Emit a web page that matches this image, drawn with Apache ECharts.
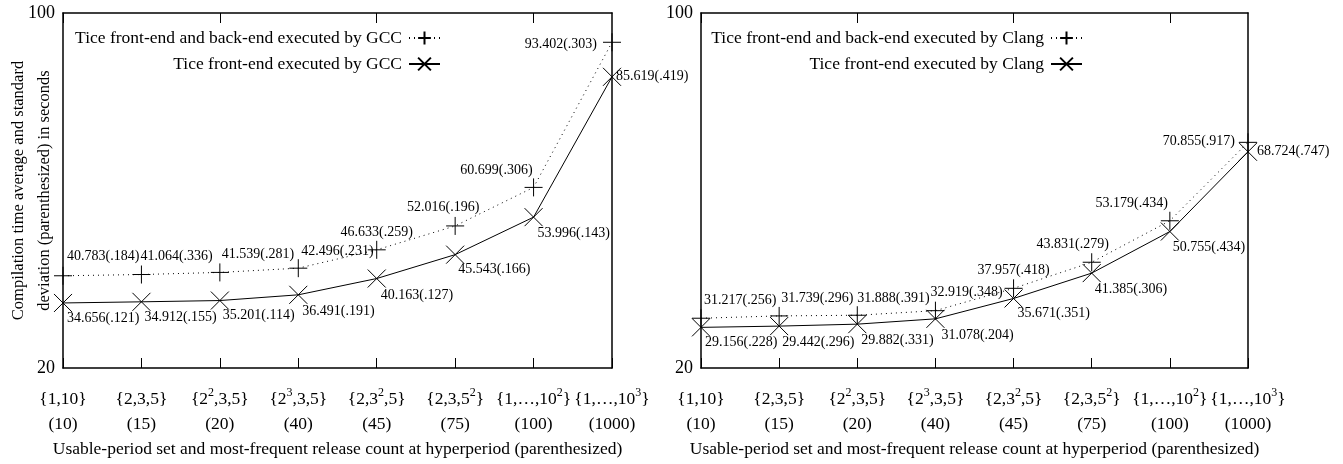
<!DOCTYPE html>
<html>
<head>
<meta charset="utf-8">
<script src="https://cdn.jsdelivr.net/npm/echarts@6/dist/echarts.min.js"></script>
<style>
  html, body { margin: 0; padding: 0; background: #fff; }
  #chart { width: 1343px; height: 464px; }
</style>
</head>
<body>
<div id="chart"></div>
<script>
// x categories: usable-period set + most-frequent release count
const periodSets = ['{1,10}', '{2,3,5}', '{2{sup|2},3,5}', '{2{sup|3},3,5}', '{2,3{sup|2},5}', '{2,3,5{sup|2}}', '{1,…,10{sup|2}}', '{1,…,10{sup|3}}']
const releaseCounts = [10, 15, 20, 40, 45, 75, 100, 1000]
const yTicks = [20, 100]

// GCC panel
const gccFullAvg = [40.783, 41.064, 41.539, 42.496, 46.633, 52.016, 60.699, 93.402]
const gccFullStd = [0.184, 0.336, 0.281, 0.231, 0.259, 0.196, 0.306, 0.303]
const gccFrontAvg = [34.656, 34.912, 35.201, 36.491, 40.163, 45.543, 53.996, 85.619]
const gccFrontStd = [0.121, 0.155, 0.114, 0.191, 0.127, 0.166, 0.143, 0.419]

// Clang panel
const clangFullAvg = [31.217, 31.739, 31.888, 32.919, 37.957, 43.831, 53.179, 70.855]
const clangFullStd = [0.256, 0.296, 0.391, 0.348, 0.418, 0.279, 0.434, 0.917]
const clangFrontAvg = [29.156, 29.442, 29.882, 31.078, 35.671, 41.385, 50.755, 68.724]
const clangFrontStd = [0.228, 0.296, 0.331, 0.204, 0.351, 0.306, 0.434, 0.747]

const font = 'Liberation Serif'
const plusSymbol = 'path://M0,10L20,10M10,0L10,20'
const crossSymbol = 'path://M0,0L20,20M20,0L0,20'

// label placement per point: [align, dx, dy]
const gccFullPos = [['left', 4, -19], ['left', -1, -18], ['left', 2, -18], ['left', 3, -17], ['center', 0, -17], ['center', -12, -19], ['right', -1, -17], ['right', -15, 2]]
const gccFrontPos = [['left', 4, 15], ['left', 3, 16], ['left', 3, 15], ['left', 4, 17], ['left', 4, 17], ['left', 3, 15], ['left', 4, 16], ['left', 4, 0]]
const clangFullPos = [['left', 3, -18], ['left', 2, -18], ['left', 0, -17], ['left', -5, -18], ['center', 0, -18], ['center', -19, -18], ['right', -2, -17], ['right', -13, -1]]
const clangFrontPos = [['left', 4, 15], ['left', 3, 16], ['left', 4, 16], ['left', 6, 16], ['left', 4, 15], ['left', 3, 16], ['left', 3, 16], ['left', 9, 0]]

const categories = periodSets.map((s, i) => s + '\n(' + releaseCounts[i] + ')')

function fmt(avg, std) {
  return avg.toFixed(3) + '(' + std.toFixed(3).slice(1) + ')'
}

function buildData(avg, std, pos) {
  return avg.map((v, i) => ({
    value: v,
    label: {
      show: true,
      position: ['50%', '50%'],
      align: pos[i][0],
      verticalAlign: 'middle',
      offset: [pos[i][1], pos[i][2]],
      formatter: fmt(v, std[i]),
      fontFamily: font,
      fontSize: 14,
      color: '#000'
    }
  }))
}

function makeSeries(name, idx, avg, std, pos, dotted, symbol) {
  return {
    name: name,
    type: 'line',
    xAxisIndex: idx * 2,
    yAxisIndex: idx * 2,
    data: buildData(avg, std, pos),
    symbol: symbol,
    symbolSize: 18,
    showAllSymbol: true,
    color: '#000',
    lineStyle: { color: '#000', width: 1, type: dotted ? [1, 4] : 'solid' },
    itemStyle: { color: '#000', borderColor: '#000', borderWidth: 1 },
    emphasis: { disabled: true },
    animation: false,
    z: 3
  }
}

const grids = [
  { left: 63, top: 13, width: 549, height: 355, outerBoundsMode: 'none' },
  { left: 701, top: 13, width: 547, height: 355, outerBoundsMode: 'none' }
]

const xAxes = []
const yAxes = []
grids.forEach((g, i) => {
  xAxes.push({
    type: 'category',
    gridIndex: i,
    data: categories,
    boundaryGap: false,
    position: 'bottom',
    axisLine: { show: true, lineStyle: { color: '#000', width: 1.5 } },
    axisTick: { show: true, inside: true, length: 10, lineStyle: { color: '#000', width: 1 } },
    axisLabel: {
      interval: 0,
      margin: 19,
      fontFamily: font,
      fontSize: 17.5,
      lineHeight: 25,
      color: '#000',
      rich: {
        sup: { fontFamily: font, fontSize: 12, verticalAlign: 'top', lineHeight: 14, color: '#000' }
      }
    },
    name: 'Usable-period set and most-frequent release count at hyperperiod (parenthesized)',
    nameLocation: 'middle',
    nameGap: 72,
    nameMoveOverlap: false,
    nameTextStyle: { fontFamily: font, fontSize: 17.5, color: '#000' }
  })
  xAxes.push({
    type: 'category',
    gridIndex: i,
    data: categories,
    boundaryGap: false,
    position: 'top',
    axisLine: { show: true, lineStyle: { color: '#000', width: 1.5 } },
    axisTick: { show: true, inside: true, length: 10, lineStyle: { color: '#000', width: 1 } },
    axisLabel: { show: false }
  })
  yAxes.push({
    type: 'value',
    gridIndex: i,
    min: 20,
    max: 100,
    interval: 20,
    splitLine: { show: false },
    axisLine: { show: true, lineStyle: { color: '#000', width: 1.5 } },
    axisTick: { show: false },
    axisLabel: {
      customValues: yTicks,
      margin: 8,
      fontFamily: font,
      fontSize: 18,
      color: '#000'
    },
    name: i === 0 ? 'Compilation time average and standard\ndeviation (parenthesized) in seconds' : '',
    nameLocation: 'middle',
    nameGap: 5,
    nameMoveOverlap: false,
    nameTextStyle: { fontFamily: font, fontSize: 16.5, lineHeight: 26, color: '#000' }
  })
  yAxes.push({
    type: 'value',
    gridIndex: i,
    min: 20,
    max: 100,
    interval: 20,
    position: 'right',
    splitLine: { show: false },
    axisLine: { show: true, lineStyle: { color: '#000', width: 1.5 } },
    axisTick: { show: false },
    axisLabel: { show: false }
  })
})

const names = [
  'Tice front-end and back-end executed by GCC',
  'Tice front-end executed by GCC',
  'Tice front-end and back-end executed by Clang',
  'Tice front-end executed by Clang'
]

function legendFor(name, right, top) {
  return {
    data: [name],
    right: right,
    top: top,
    align: 'right',
    itemWidth: 31,
    itemHeight: 16,
    itemGap: 0,
    padding: 0,
    selectedMode: false,
    textStyle: { fontFamily: font, fontSize: 17.5, color: '#000', padding: [0, 2, 0, 0] }
  }
}

const chart = echarts.init(document.getElementById('chart'))
chart.setOption({
  backgroundColor: '#fff',
  animation: false,
  grid: grids,
  xAxis: xAxes,
  yAxis: yAxes,
  legend: [
    legendFor(names[0], 902, 29),
    legendFor(names[1], 902, 55),
    legendFor(names[2], 260, 29),
    legendFor(names[3], 260, 55)
  ],
  series: [
    makeSeries(names[0], 0, gccFullAvg, gccFullStd, gccFullPos, true, plusSymbol),
    makeSeries(names[1], 0, gccFrontAvg, gccFrontStd, gccFrontPos, false, crossSymbol),
    makeSeries(names[2], 1, clangFullAvg, clangFullStd, clangFullPos, true, plusSymbol),
    makeSeries(names[3], 1, clangFrontAvg, clangFrontStd, clangFrontPos, false, crossSymbol)
  ]
})
</script>
</body>
</html>
